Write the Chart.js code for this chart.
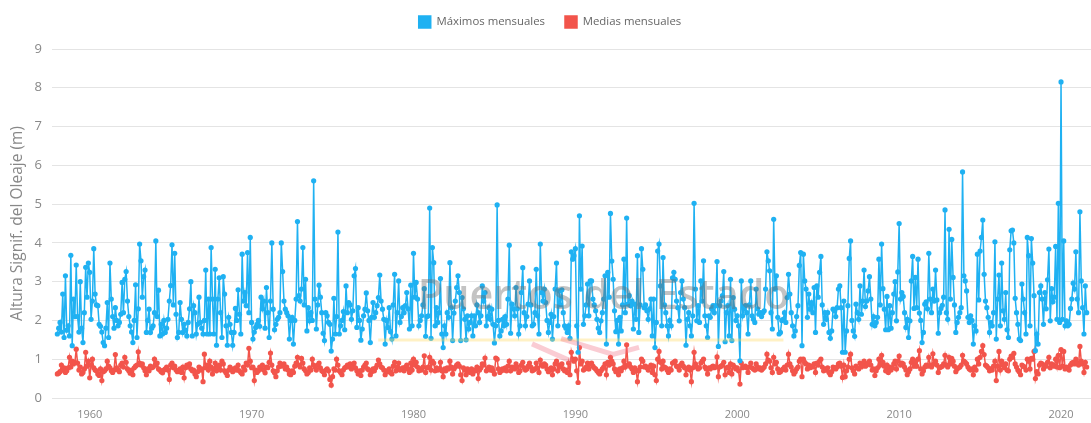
<!DOCTYPE html>
<html lang="es">
<head>
<meta charset="utf-8">
<title>Altura significante del oleaje</title>
<script src="https://cdn.jsdelivr.net/npm/chart.js@4.4.0/dist/chart.umd.min.js"></script>
<style>
  html, body { margin: 0; padding: 0; background: #fff; overflow: hidden; }
  #wrap { width: 1100px; height: 423px; }
</style>
</head>
<body>
<div id="wrap"><canvas id="oleaje" width="1100" height="423"></canvas></div>
<script>
// ==== Data (monthly, from Jan 1958) ====
const firstYear = 1958;
const decadeTicks = [1960, 1970, 1980, 1990, 2000, 2010, 2020];

const maximosMensuales = [
  1.65,1.8,1.95,1.7,2.68,1.56,3.15,1.75,1.86,1.6,3.68,1.35,
  2.55,2.1,3.43,2.1,1.7,3.0,1.8,1.43,2.2,3.37,2.6,3.48,
  3.24,2.03,2.5,3.85,2.68,2.4,2.38,1.9,1.85,1.7,1.43,1.35,
  1.8,2.46,1.56,3.48,2.55,2.1,1.8,2.33,2.0,1.86,1.95,2.16,
  2.98,2.2,3.06,3.26,2.5,2.1,1.86,1.7,1.43,2.0,2.92,1.56,
  2.3,3.97,3.54,2.6,3.13,3.3,1.69,2.0,2.29,1.69,1.8,1.86,
  2.2,4.05,2.1,2.78,1.6,1.9,1.65,2.0,1.69,1.8,2.03,2.5,
  2.9,3.95,2.4,3.73,2.16,1.56,1.69,2.46,2.03,1.69,1.9,1.75,
  1.6,1.95,2.3,3.0,1.6,2.38,2.2,1.65,1.9,2.6,1.95,1.8,
  1.65,2.0,3.3,1.65,2.55,1.65,3.88,2.55,1.65,3.32,1.36,2.55,
  3.1,2.2,1.56,3.13,2.68,1.86,1.36,2.08,1.9,1.69,1.36,1.69,
  2.31,2.0,2.79,2.16,1.65,3.71,2.5,2.72,2.38,3.75,2.2,4.14,
  1.95,1.52,1.7,1.82,1.9,2.0,1.85,2.6,2.3,2.5,1.8,2.85,
  2.2,1.56,2.5,4.0,2.29,1.76,1.9,2.03,2.08,2.2,4.0,3.26,
  2.5,2.29,2.2,2.12,1.52,2.0,2.08,1.39,2.0,2.55,4.55,2.64,
  2.5,2.81,3.88,2.4,3.06,1.73,2.33,1.99,2.2,2.0,5.6,2.55,
  1.78,2.4,2.91,2.6,2.2,1.67,1.48,2.2,2.12,1.95,1.9,1.21,
  1.52,2.57,1.65,2.1,4.28,1.65,1.86,2.0,2.23,1.76,2.89,2.2,
  2.46,2.4,2.03,2.25,3.15,3.34,1.82,2.33,2.0,1.49,1.78,2.12,
  2.29,2.71,2.25,2.0,1.43,2.08,2.46,2.08,2.2,2.38,2.59,3.17,
  2.5,2.29,2.03,1.39,2.0,1.82,2.33,1.71,1.52,2.4,3.19,1.6,
  2.2,3.02,1.95,2.1,2.33,2.2,2.38,2.72,2.3,1.78,2.91,1.86,
  3.73,2.6,2.98,2.55,1.86,2.0,2.12,2.4,2.82,1.59,2.1,2.12,
  4.9,1.54,3.88,3.49,1.86,2.33,1.95,2.2,3.08,1.65,1.3,1.86,
  1.65,2.2,2.08,3.49,2.33,1.48,2.19,2.5,2.85,3.15,2.72,1.48,
  2.59,2.3,2.03,1.5,2.12,1.78,1.95,2.12,1.6,2.12,1.86,2.4,
  2.2,1.95,2.12,2.89,2.5,2.72,1.86,2.1,2.33,2.03,2.29,1.9,
  1.42,1.86,4.98,2.0,1.6,1.73,2.03,1.86,2.1,1.9,2.55,3.94,
  1.67,2.42,2.3,2.12,2.85,2.3,1.65,1.86,2.72,3.36,2.2,1.86,
  2.1,2.42,3.02,2.4,1.86,1.9,2.2,3.32,2.12,1.65,3.97,2.72,
  2.5,2.81,2.46,2.0,1.69,1.95,2.16,1.52,2.1,2.81,3.48,1.86,
  2.76,2.4,2.79,2.2,1.86,1.8,1.69,1.86,1.54,3.77,3.58,3.67,
  3.85,1.86,1.18,4.7,2.81,3.92,1.9,2.12,2.4,2.94,2.12,3.02,
  3.02,2.55,2.4,2.25,2.03,1.8,1.69,1.99,2.2,2.55,3.15,1.39,
  3.24,2.6,4.76,3.53,3.06,2.25,1.71,2.0,1.39,2.08,1.73,2.4,
  3.58,2.2,4.64,2.42,2.64,2.38,2.5,1.78,2.42,2.03,3.67,1.69,
  2.4,3.85,3.32,2.33,2.4,2.25,2.03,2.3,2.55,1.6,2.55,1.3,
  1.95,3.79,3.97,2.89,1.86,3.62,2.4,2.2,1.86,1.6,2.0,1.86,
  3.1,3.24,3.06,2.5,2.33,1.99,2.72,3.02,2.55,2.33,1.36,2.03,
  2.2,1.86,1.6,2.12,5.02,2.81,1.99,2.38,1.95,3.02,2.5,3.54,
  2.12,1.86,1.56,2.12,2.08,2.3,2.38,2.2,2.38,3.52,1.33,2.38,
  2.5,2.64,3.26,1.45,2.2,2.38,1.6,3.06,1.48,2.59,2.29,2.0,
  2.12,1.86,0.96,3.02,2.12,2.3,2.38,2.2,1.65,2.4,3.02,2.12,
  2.03,1.95,2.81,2.3,2.16,2.2,2.1,2.2,2.25,2.81,3.77,3.54,
  3.28,2.2,1.78,4.61,2.81,3.15,2.08,1.65,1.69,2.0,2.03,2.2,
  1.95,2.59,3.19,2.68,2.2,1.86,1.6,1.73,2.1,2.38,3.42,3.75,
  1.35,3.71,3.02,2.81,2.08,2.68,2.29,2.46,2.2,2.85,1.69,2.89,
  2.6,3.24,3.65,2.4,1.9,2.2,2.03,2.2,1.69,1.54,1.73,2.29,
  2.25,2.1,2.33,2.81,2.89,2.33,1.18,2.5,1.18,1.73,2.38,3.6,
  4.05,2.0,1.73,1.59,2.42,2.2,2.03,2.89,2.16,2.5,3.3,2.36,
  2.5,2.76,3.13,2.55,1.9,2.1,1.86,1.95,2.08,3.58,2.4,3.97,
  2.82,2.29,1.76,2.62,1.76,2.38,1.8,2.2,2.68,3.0,1.99,3.25,
  4.5,2.55,2.72,2.62,2.2,1.82,2.03,1.56,1.99,3.02,3.65,2.31,
  3.11,2.33,3.58,2.19,2.0,1.43,1.69,2.42,2.48,2.3,3.73,2.55,
  2.2,2.81,2.5,3.3,2.53,1.67,2.2,2.31,2.39,2.6,4.85,2.2,
  2.03,4.35,2.55,4.09,3.11,2.4,1.69,1.95,2.08,2.2,2.33,5.83,
  3.15,3.02,2.76,2.08,1.95,2.12,2.0,1.39,1.86,1.73,3.71,2.53,
  3.79,4.14,4.59,3.19,2.5,2.33,2.08,1.69,1.95,1.86,2.2,4.03,
  1.52,2.55,3.17,1.86,3.48,2.25,2.03,2.72,1.76,1.56,3.82,4.31,
  4.33,4.0,2.57,2.2,1.9,1.52,1.48,2.94,2.55,2.2,1.65,4.14,
  3.67,1.86,4.11,3.48,2.64,1.22,1.65,1.39,2.72,2.89,2.55,1.9,
  2.72,2.3,3.05,3.84,1.99,2.82,2.48,2.6,3.91,2.03,5.02,1.95,
  8.15,2.03,4.05,1.86,1.99,1.86,1.9,2.31,2.55,2.96,2.81,3.77,
  2.55,2.2,4.8,3.02,2.33,1.65,2.89,2.2
];

const mediasMensuales = [
  0.62,0.64,0.68,0.85,0.72,0.78,0.66,0.7,0.78,1.05,0.8,0.95,
  0.88,0.92,1.26,0.9,0.72,0.8,0.62,0.66,0.75,1.18,0.82,0.95,
  0.52,0.85,1.0,0.78,0.72,0.7,0.62,0.58,0.75,0.45,0.68,0.7,
  0.75,0.95,0.82,0.78,0.7,0.66,0.72,1.12,0.78,0.72,0.68,0.85,
  0.9,0.8,1.05,0.92,0.75,0.7,0.64,0.72,0.6,0.78,0.82,0.85,
  1.19,0.9,0.85,0.88,0.78,0.7,0.6,0.75,0.7,0.82,0.78,0.8,
  1.0,0.85,0.9,0.75,0.72,0.68,0.65,0.72,0.75,0.8,0.72,0.48,
  0.85,0.9,0.78,0.82,0.72,0.68,0.7,0.75,0.66,0.8,0.52,0.78,
  0.85,0.8,0.88,0.75,0.7,0.72,0.62,0.55,0.68,0.8,0.72,0.75,
  0.42,1.13,0.78,0.85,0.72,0.95,0.8,0.62,0.75,0.9,0.7,0.8,
  0.85,0.72,0.95,0.88,0.7,0.65,0.58,0.72,0.8,0.75,0.68,0.72,
  0.78,0.72,0.85,0.7,0.66,0.62,0.8,0.72,0.9,0.85,1.28,0.95,
  0.78,0.8,0.45,0.72,0.66,0.7,0.8,0.75,0.85,0.72,0.65,0.8,
  0.78,0.92,1.16,0.85,0.7,0.65,0.55,0.7,0.8,0.9,0.82,0.85,
  0.88,0.75,0.8,0.72,0.62,0.6,0.7,0.66,0.82,0.9,1.05,0.85,
  0.8,1.02,0.9,0.75,0.7,0.62,0.66,0.78,0.72,1.0,0.85,0.8,
  0.72,0.85,0.9,0.78,0.7,0.68,0.6,0.72,0.75,0.7,0.48,0.33,
  0.55,0.75,0.72,1.0,0.85,0.7,0.66,0.6,0.72,0.78,0.8,0.85,
  0.8,0.88,0.75,0.82,0.9,0.78,0.7,0.62,0.7,0.58,0.72,0.8,
  0.85,0.9,0.75,0.72,0.6,0.68,0.75,0.7,0.78,0.85,0.98,0.88,
  0.8,0.78,0.72,0.6,0.7,0.68,0.75,0.66,0.62,0.82,0.92,0.7,
  0.8,0.9,0.72,0.75,0.78,0.7,0.8,0.85,0.75,0.66,0.9,0.72,
  1.0,0.85,0.92,0.8,0.7,0.75,0.72,0.8,1.09,0.66,0.78,0.8,
  1.05,0.72,0.95,0.9,0.7,0.78,0.72,0.75,0.92,0.7,0.55,0.75,
  0.7,0.78,0.75,0.95,0.8,0.62,0.75,0.8,0.85,0.88,0.82,0.6,
  0.45,0.78,0.72,0.6,0.75,0.7,0.66,0.75,0.62,0.72,0.7,0.8,
  0.5,0.72,0.78,0.88,0.85,1.03,0.7,0.75,0.8,0.72,0.78,0.7,
  0.62,1.03,1.0,0.75,0.66,0.7,0.75,0.72,0.78,0.7,0.82,0.95,
  0.7,0.8,0.78,0.75,0.88,0.8,0.66,0.7,0.85,0.92,0.78,0.72,
  0.75,0.82,0.9,0.8,0.7,0.72,0.75,0.9,0.78,0.66,0.98,0.85,
  0.82,0.88,0.85,0.75,0.68,0.72,0.78,0.6,0.75,0.88,0.95,0.7,
  0.85,0.8,0.88,0.75,0.7,0.72,0.66,0.9,0.6,1.18,1.0,0.95,
  1.0,0.7,0.4,1.3,0.88,0.95,0.72,0.75,0.8,0.9,0.75,0.88,
  0.9,0.82,0.78,0.75,0.7,0.66,0.62,0.7,0.75,0.8,0.88,0.6,
  0.92,0.85,1.05,0.95,0.88,0.75,0.68,0.72,0.6,0.75,0.7,0.78,
  0.95,0.8,1.37,0.85,0.88,0.8,0.75,0.66,0.78,0.72,0.42,0.7,
  0.8,1.0,0.95,0.8,0.82,0.78,0.72,0.8,0.85,0.66,0.82,0.6,
  0.45,1.0,1.2,0.92,0.75,0.95,0.8,0.78,0.72,0.66,0.75,0.72,
  0.9,0.92,0.95,0.82,0.8,0.72,0.85,0.9,0.82,0.78,0.6,0.75,
  0.8,0.72,0.42,0.78,1.18,0.88,0.8,0.75,0.78,0.9,0.95,1.0,
  0.8,0.75,0.62,0.78,0.75,0.8,0.82,0.78,0.8,1.06,0.55,0.8,
  0.82,0.85,0.92,0.6,0.78,0.8,0.66,0.88,0.62,0.85,0.8,0.75,
  0.78,0.7,0.36,0.9,0.78,0.8,0.82,0.78,0.66,0.8,0.9,0.78,
  0.75,0.72,0.88,0.8,0.75,0.78,0.72,0.76,0.8,0.88,1.13,0.98,
  0.95,0.78,0.66,1.05,0.88,0.92,0.75,0.66,0.68,0.72,0.75,0.8,
  0.72,0.85,1.13,0.88,0.8,0.7,0.62,0.68,0.75,0.8,0.95,1.0,
  0.55,1.0,0.92,0.88,0.75,0.85,0.78,0.82,0.8,0.88,0.66,0.9,
  0.85,0.95,1.0,0.8,0.7,0.75,0.72,0.78,0.66,0.6,0.68,0.8,
  0.78,0.75,0.8,0.88,0.9,0.82,0.53,0.85,0.55,0.7,0.8,1.0,
  1.13,0.78,0.7,0.62,0.82,0.78,0.75,0.9,0.8,0.85,0.95,0.82,
  0.85,0.9,0.95,0.85,0.72,0.75,0.58,0.7,0.78,1.0,0.85,1.1,
  0.92,0.82,0.7,0.85,0.66,0.8,0.72,0.78,0.88,0.95,0.75,0.95,
  1.08,0.85,0.9,0.88,0.8,0.72,0.6,0.68,0.75,0.92,1.0,0.82,
  0.95,0.82,1.0,1.22,0.75,0.62,0.7,0.8,0.85,0.82,1.05,0.85,
  0.8,1.14,0.88,0.95,0.85,0.66,0.78,0.8,0.82,0.88,1.1,0.85,
  0.8,1.05,0.88,1.02,0.95,0.82,0.68,0.75,0.78,0.8,0.85,1.1,
  0.95,0.92,0.88,0.8,0.75,0.72,0.75,0.6,0.8,0.72,1.0,0.88,
  1.05,1.2,1.35,1.12,0.85,0.82,0.78,0.7,0.75,0.72,0.82,0.95,
  0.45,0.82,1.2,0.72,0.95,0.85,0.78,0.88,0.72,0.7,1.0,1.08,
  1.05,1.15,0.88,0.8,0.72,0.68,0.6,0.85,0.82,0.8,0.72,1.0,
  0.95,0.75,1.02,1.0,1.2,0.5,0.68,0.62,0.85,0.9,0.88,0.75,
  0.85,0.82,0.92,1.05,0.78,0.88,0.85,0.82,1.0,0.8,1.1,0.78,
  1.25,0.82,1.2,0.75,0.8,0.78,0.72,0.85,0.9,0.92,0.88,1.0,
  0.9,0.85,1.33,0.95,0.88,0.66,0.92,0.8
];

// month index -> decimal year for the linear x axis
const toPoints = arr => arr.map((v, i) => ({ x: firstYear + i / 12, y: v }));

const AZUL = '#1fb1f2';
const ROJO = '#f2544b';
const FONT = '"Open Sans", sans-serif';

// faint "Puertos del Estado" watermark over the plot
const watermark = {
    id: 'watermark',
    afterDatasetsDraw(chart) {
        const { ctx, chartArea: a } = chart;
        const fx = f => a.left + 1039 * f, fy = f => a.top + a.height * f;
        ctx.save();
        // logo strokes
        ctx.strokeStyle = 'rgba(255,215,90,0.35)';
        ctx.lineWidth = 3;
        ctx.beginPath(); ctx.moveTo(fx(0.314), fy(0.834)); ctx.lineTo(fx(0.704), fy(0.834)); ctx.stroke();
        ctx.strokeStyle = 'rgba(240,110,130,0.35)';
        ctx.lineWidth = 5;
        ctx.beginPath(); ctx.moveTo(fx(0.462), fy(0.845)); ctx.lineTo(fx(0.500), fy(0.895)); ctx.stroke();
        ctx.beginPath(); ctx.moveTo(fx(0.490), fy(0.83)); ctx.lineTo(fx(0.540), fy(0.875)); ctx.lineTo(fx(0.565), fy(0.855)); ctx.stroke();
        // text
        ctx.font = `600 40px ${FONT}`;
        const txt = 'Puertos del Estado';
        const s = 372 / ctx.measureText(txt).width;
        ctx.font = `600 ${(40 * s).toFixed(1)}px ${FONT}`;
        ctx.fillStyle = 'rgba(105,105,105,0.4)';
        ctx.textAlign = 'center';
        ctx.textBaseline = 'middle';
        ctx.fillText(txt, fx(0.531), fy(0.71));
        ctx.restore();
    }
};

const ctx = document.getElementById('oleaje').getContext('2d');
new Chart(ctx, {
    type: 'line',
    data: {
        datasets: [
            {
                label: 'Máximos mensuales',
                data: toPoints(maximosMensuales),
                xAxisID: 'x', yAxisID: 'y',
                borderColor: AZUL, backgroundColor: AZUL,
                borderWidth: 1.5, pointRadius: 2.6, pointBorderWidth: 0,
                pointBackgroundColor: AZUL, tension: 0
            },
            {
                label: 'Medias mensuales',
                data: toPoints(mediasMensuales),
                xAxisID: 'x', yAxisID: 'y',
                borderColor: ROJO, backgroundColor: ROJO,
                borderWidth: 1.5, pointRadius: 2.6, pointBorderWidth: 0,
                pointBackgroundColor: ROJO, tension: 0
            }
        ]
    },
    options: {
        responsive: false, animation: false,
        layout: { padding: { top: -4, right: 0, bottom: 0, left: 0 } },
        plugins: {
            legend: {
                position: 'top',
                labels: {
                    boxWidth: 12, boxHeight: 12, padding: 20,
                    color: '#666', font: { family: FONT, size: 11.4 }
                }
            },
            tooltip: { enabled: true }
        },
        scales: {
            x: {
                type: 'linear', min: 1957.67, max: 2022.16,
                grid: { display: false, drawTicks: false },
                border: { display: false },
                afterFit: s => { s.height = 25; },
                afterBuildTicks: s => { s.ticks = decadeTicks.map(v => ({ value: v })); },
                ticks: {
                    autoSkip: false, maxRotation: 0, padding: 10,
                    color: '#888', font: { family: FONT, size: 11 },
                    callback: v => String(v)
                }
            },
            // empty spacer between legend and plot
            gap: {
                type: 'linear', position: 'top', display: true,
                min: 0, max: 1,
                grid: { display: false, drawTicks: false },
                border: { display: false },
                ticks: { display: false },
                afterFit: s => { s.height = 11; }
            },
            y: {
                min: 0, max: 9,
                afterFit: s => { s.width = 52; },
                grid: { color: '#e4e4e4', drawTicks: false },
                border: { display: false },
                ticks: {
                    stepSize: 1, padding: 10,
                    color: '#888', font: { family: FONT, size: 13 }
                },
                title: {
                    display: true, text: 'Altura Signif. del Oleaje (m)',
                    color: '#888', font: { family: FONT, size: 15.5 },
                    padding: { top: 8, bottom: 0 }
                }
            }
        }
    },
    plugins: [watermark]
});
</script>
</body>
</html>
